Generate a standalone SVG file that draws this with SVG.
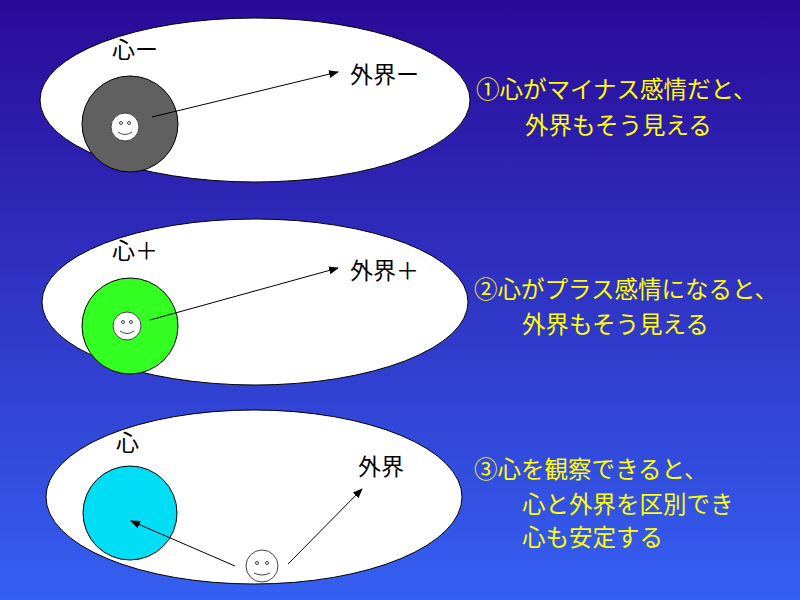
<svg xmlns="http://www.w3.org/2000/svg" width="800" height="600" viewBox="0 0 800 600">
<defs>
<linearGradient id="bg" x1="0" y1="0" x2="0" y2="1"><stop offset="0" stop-color="#2a0a98"/><stop offset="1" stop-color="#3560f2"/></linearGradient>
<marker id="ah" markerWidth="10" markerHeight="8" refX="9" refY="4" orient="auto" markerUnits="userSpaceOnUse"><path d="M0,0L10,4L0,8z" fill="#000"/></marker>
<style>
.el{fill:#fff;stroke:#000;stroke-width:1}
.c{stroke:#000;stroke-width:1}
.face{fill:#fff;stroke:#444;stroke-width:1}
.eye{fill:none;stroke:#444;stroke-width:1}
.lb{font-family:"Liberation Sans","Noto Sans CJK JP",sans-serif;font-size:23px;fill:#000}
.y{font-family:"Noto Sans CJK JP",sans-serif;font-size:23.5px;fill:#ffff00}
.ar{stroke:#000;stroke-width:1;fill:none;marker-end:url(#ah)}
</style>
</defs>
<rect width="800" height="600" fill="url(#bg)"/>
<g id="n1">
<ellipse class="el" cx="255" cy="100" rx="215" ry="82"/>
<circle class="c" cx="130" cy="124" r="48" fill="#606060"/>
<circle class="face" cx="125" cy="127" r="14"/>
<circle class="eye" cx="121" cy="123" r="1.5"/><circle class="eye" cx="129" cy="123" r="1.5"/>
<path class="eye" d="M118,132 Q125,137 132,132"/>
<text class="lb" x="112" y="58">心ー</text>
<text class="lb" x="350" y="83">外界ー</text>
</g>
<g id="n2">
<ellipse class="el" cx="255" cy="302" rx="213" ry="83"/>
<circle class="c" cx="130" cy="326" r="48" fill="#33ff22"/>
<circle class="face" cx="127" cy="326" r="14"/>
<circle class="eye" cx="123" cy="322" r="1.5"/><circle class="eye" cx="131" cy="322" r="1.5"/>
<path class="eye" d="M120,331 Q127,336 134,331"/>
<text class="lb" x="112" y="259">心＋</text>
<text class="lb" x="350" y="279">外界＋</text>
</g>
<g id="n3">
<ellipse class="el" cx="254" cy="497" rx="208" ry="87"/>
<circle class="c" cx="130" cy="513" r="47" fill="#00ddf5"/>
<circle class="face" cx="262" cy="566" r="16"/>
<circle class="eye" cx="257" cy="563" r="1.5"/><circle class="eye" cx="267" cy="563" r="1.5"/>
<path class="eye" d="M254,573 Q262,577 270,573"/>
<text class="lb" x="116" y="451">心</text>
<text class="lb" x="358" y="475">外界</text>
</g>
<g id="connectors">
<line class="ar" x1="152" y1="117" x2="338" y2="72"/>
<line class="ar" x1="150" y1="320" x2="338" y2="268"/>
<line class="ar" x1="235" y1="566" x2="131" y2="521"/>
<line class="ar" x1="288" y1="564" x2="362" y2="489"/>
</g>
<g id="texts">
<text class="y" x="476" y="98">①心がマイナス感情だと、</text>
<text class="y" x="525" y="134">外界もそう見える</text>
<text class="y" x="474" y="298">②心がプラス感情になると、</text>
<text class="y" x="522" y="333">外界もそう見える</text>
<text class="y" x="474" y="478">③心を観察できると、</text>
<text class="y" x="522" y="513">心と外界を区別でき</text>
<text class="y" x="522" y="546">心も安定する</text>
</g>
</svg>
